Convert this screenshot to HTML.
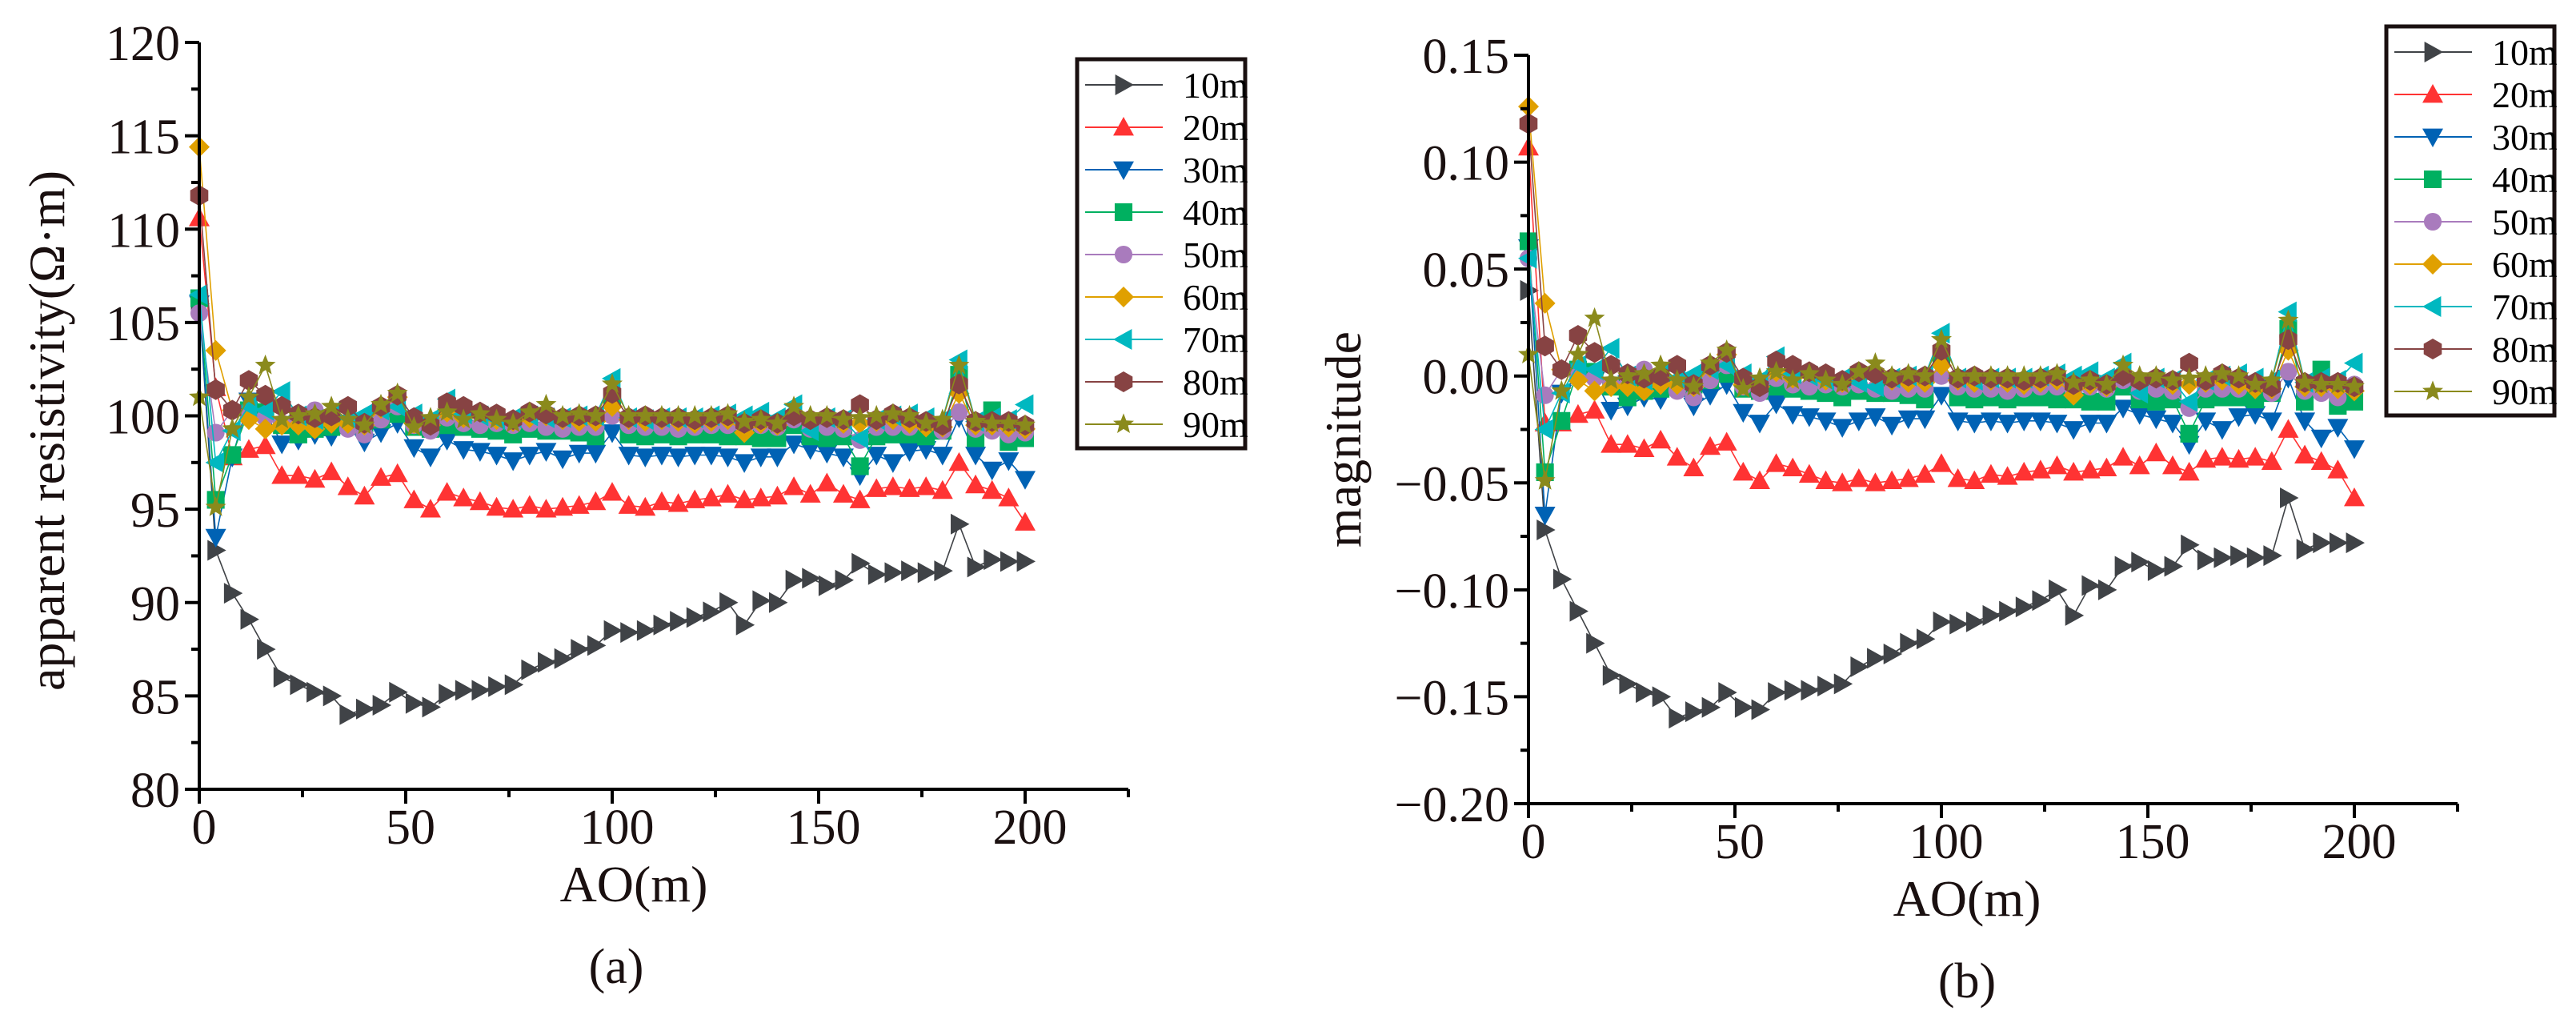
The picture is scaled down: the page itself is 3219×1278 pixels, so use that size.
<!DOCTYPE html>
<html><head><meta charset="utf-8"><style>
html,body{margin:0;padding:0;background:#fff;}
svg{display:block;font-family:"Liberation Serif",serif;}
</style></head><body>
<svg id="chart" width="3219" height="1278" viewBox="0 0 3219 1278" xmlns="http://www.w3.org/2000/svg"></svg>
<script>
const xs = [];
for (let i = 0; i <= 50; i++) xs.push(i * 4);
const seriesNames = ["10m","20m","30m","40m","50m","60m","70m","80m","90m"];
const seriesColors = ["#404347","#ff3333","#0062b4","#00b060","#a97bbd","#e0a000","#00b8c0","#874343","#8a8a1c"];
const seriesShapes = ["tri-right","tri-up","tri-down","square","circle","diamond","tri-left","hexagon","star"];

const left10 = [106,92.8,90.5,89.1,87.5,86.0,85.6,85.2,85.0,84.0,84.3,84.5,85.2,84.6,84.4,85.1,85.3,85.3,85.5,85.6,86.4,86.8,87.0,87.5,87.7,88.5,88.4,88.5,88.8,89.0,89.2,89.5,90.0,88.8,90.1,90.0,91.2,91.3,90.9,91.2,92.1,91.5,91.6,91.7,91.6,91.7,94.2,91.9,92.3,92.2,92.2];
const left20 = [110.6,101.5,97.8,98.2,98.4,96.8,96.8,96.6,97.0,96.2,95.7,96.7,96.9,95.5,95.0,95.9,95.6,95.4,95.1,95.0,95.2,95.0,95.1,95.2,95.4,95.9,95.2,95.1,95.4,95.3,95.5,95.6,95.8,95.5,95.6,95.7,96.2,95.8,96.4,95.8,95.5,96.1,96.2,96.1,96.2,96.0,97.5,96.3,96.0,95.6,94.3];
const left30 = [106,93.5,97.8,100.8,100.2,98.5,98.7,99.0,98.9,99.4,98.6,99.1,99.6,98.3,97.8,98.7,98.2,98.1,97.9,97.6,97.9,98.1,97.7,98.0,98.0,99.1,97.9,97.8,97.9,97.8,97.9,97.9,97.8,97.5,97.8,97.8,98.5,98.2,98.0,97.8,96.8,97.9,97.5,98.1,98.2,97.9,99.9,97.9,97.1,97.6,96.6];
const left40 = [106.3,95.5,97.9,100.3,100.2,99.5,99.0,99.3,99.4,99.5,99.6,99.8,100.1,99.4,99.3,99.5,99.4,99.3,99.2,99.0,99.3,99.2,99.2,99.1,98.9,101.0,99.0,98.9,99.0,98.9,99.0,99.0,98.9,98.9,98.8,98.8,99.5,98.9,98.8,98.9,97.3,98.9,99.0,99.0,98.9,99.2,102.2,98.8,100.3,98.6,98.8];
const left50 = [105.5,99.1,100.3,100.0,99.9,99.6,99.6,100.3,99.8,99.3,99.0,99.8,100.5,99.5,99.2,99.9,99.6,99.5,99.6,99.5,99.6,99.4,99.3,99.4,99.4,100.0,99.5,99.4,99.4,99.3,99.4,99.5,99.5,99.3,99.5,99.4,99.8,99.3,99.4,99.3,98.7,99.4,99.4,99.4,99.5,99.2,100.2,99.3,99.2,99.0,99.1];
const left60 = [114.4,103.5,100.3,99.8,99.3,99.5,99.5,99.3,99.6,99.6,99.5,100.4,101.0,99.6,99.5,100.2,99.9,100.2,99.8,99.7,99.9,100.0,99.8,99.7,99.7,100.5,99.8,99.7,99.8,99.7,99.6,99.7,99.8,99.1,99.6,99.5,100.0,99.8,99.9,99.6,99.6,99.7,99.8,99.6,99.4,99.4,101.2,99.5,99.5,99.4,99.3];
const left70 = [106.5,97.5,99.2,100.5,100.3,101.3,100.0,99.8,100.2,99.9,100.1,100.3,100.5,100.1,99.8,100.9,100.1,100.0,99.8,99.9,100.0,99.9,99.9,100.0,100.0,102.0,99.9,99.8,99.9,99.9,99.9,100.0,100.1,100.0,100.2,99.9,100.6,99.2,99.9,99.8,98.8,99.8,100.0,100.1,99.9,99.8,103.0,99.7,99.9,99.8,100.6];
const left80 = [111.8,101.4,100.3,101.9,101.1,100.5,100.1,99.9,100.0,100.5,99.6,100.5,101.1,99.9,99.5,100.7,100.5,100.2,100.1,99.8,100.2,100.1,99.9,100.0,100.0,101.2,99.9,100.0,99.9,99.9,99.8,99.9,100.0,99.6,99.8,99.6,100.0,99.8,99.9,99.8,100.6,99.8,100.1,99.9,99.7,99.5,101.7,99.7,99.7,99.7,99.5];
const left90 = [101.0,95.1,99.3,101.0,102.7,99.8,100.0,100.1,100.5,99.8,99.5,100.6,101.2,99.4,99.9,100.2,99.8,100.1,99.8,99.6,100.2,100.6,100.0,100.1,100.0,101.7,100.0,100.0,100.0,100.0,100.0,100.0,100.1,99.7,99.8,99.6,100.5,100.0,100.0,99.8,99.9,100.0,100.1,100.0,99.6,99.8,102.7,99.7,99.6,99.6,99.5];

const right10 = [0.04,-0.072,-0.095,-0.110,-0.125,-0.140,-0.144,-0.148,-0.150,-0.160,-0.157,-0.155,-0.148,-0.155,-0.156,-0.148,-0.147,-0.147,-0.145,-0.144,-0.136,-0.132,-0.130,-0.125,-0.123,-0.115,-0.116,-0.115,-0.112,-0.110,-0.108,-0.105,-0.100,-0.112,-0.098,-0.100,-0.089,-0.087,-0.091,-0.089,-0.079,-0.086,-0.085,-0.084,-0.085,-0.084,-0.057,-0.081,-0.078,-0.078,-0.078];
const right20 = [0.107,-0.022,-0.022,-0.018,-0.016,-0.032,-0.032,-0.034,-0.030,-0.038,-0.043,-0.033,-0.031,-0.045,-0.049,-0.041,-0.043,-0.046,-0.049,-0.050,-0.048,-0.050,-0.049,-0.048,-0.046,-0.041,-0.048,-0.049,-0.046,-0.047,-0.045,-0.044,-0.042,-0.045,-0.044,-0.043,-0.038,-0.042,-0.036,-0.042,-0.045,-0.039,-0.038,-0.039,-0.038,-0.040,-0.025,-0.037,-0.040,-0.044,-0.057];
const right30 = [0.06,-0.065,-0.008,0.0,-0.002,-0.016,-0.014,-0.010,-0.011,-0.006,-0.014,-0.009,-0.004,-0.017,-0.022,-0.013,-0.018,-0.019,-0.021,-0.024,-0.021,-0.019,-0.023,-0.020,-0.020,-0.009,-0.021,-0.022,-0.021,-0.022,-0.021,-0.021,-0.022,-0.025,-0.022,-0.022,-0.015,-0.018,-0.020,-0.022,-0.032,-0.021,-0.025,-0.019,-0.018,-0.021,-0.001,-0.021,-0.029,-0.024,-0.034];
const right40 = [0.063,-0.045,-0.021,0.003,0.002,-0.005,-0.010,-0.007,-0.006,-0.005,-0.004,-0.002,0.001,-0.006,-0.007,-0.005,-0.006,-0.007,-0.008,-0.010,-0.007,-0.008,-0.008,-0.009,-0.011,0.010,-0.010,-0.011,-0.010,-0.011,-0.010,-0.010,-0.011,-0.011,-0.012,-0.012,-0.005,-0.011,-0.012,-0.011,-0.027,-0.011,-0.010,-0.010,-0.011,-0.008,0.022,-0.012,0.003,-0.014,-0.012];
const right50 = [0.055,-0.009,0.003,0.0,-0.001,-0.004,-0.004,0.003,-0.002,-0.007,-0.010,-0.002,0.005,-0.005,-0.008,-0.001,-0.004,-0.005,-0.004,-0.005,-0.004,-0.006,-0.007,-0.006,-0.006,0.0,-0.005,-0.006,-0.006,-0.007,-0.006,-0.005,-0.005,-0.007,-0.005,-0.006,-0.002,-0.007,-0.006,-0.007,-0.015,-0.006,-0.006,-0.006,-0.005,-0.008,0.002,-0.007,-0.008,-0.010,-0.004];
const right60 = [0.126,0.034,0.003,-0.002,-0.007,-0.005,-0.005,-0.007,-0.004,-0.004,-0.005,0.004,0.010,-0.004,-0.005,0.002,-0.001,0.002,-0.002,-0.003,-0.001,0.0,-0.002,-0.003,-0.003,0.005,-0.002,-0.003,-0.002,-0.003,-0.004,-0.003,-0.002,-0.009,-0.004,-0.005,0.0,-0.002,-0.001,-0.004,-0.004,-0.003,-0.002,-0.004,-0.006,-0.006,0.012,-0.005,-0.005,-0.006,-0.007];
const right70 = [0.055,-0.025,-0.008,0.005,0.003,0.013,0.0,-0.002,0.002,-0.001,0.001,0.003,0.005,0.001,-0.002,0.009,0.001,0.0,-0.002,-0.001,-0.003,-0.005,-0.001,0.0,0.0,0.020,-0.001,-0.002,-0.001,-0.001,-0.001,0.0,0.001,0.0,0.002,-0.001,0.006,-0.008,-0.001,-0.002,-0.012,-0.002,0.0,0.001,-0.001,-0.002,0.030,-0.003,-0.001,-0.002,0.006];
const right80 = [0.118,0.014,0.003,0.019,0.011,0.005,0.001,-0.001,0.0,0.005,-0.004,0.005,0.011,-0.001,-0.005,0.007,0.005,0.002,0.001,-0.002,0.002,0.001,-0.001,0.0,0.0,0.012,-0.001,0.0,-0.001,-0.001,-0.002,-0.001,0.0,-0.004,-0.002,-0.004,0.0,-0.002,-0.001,-0.002,0.006,-0.002,0.001,-0.001,-0.003,-0.005,0.017,-0.003,-0.003,-0.003,-0.005];
const right90 = [0.010,-0.049,-0.007,0.010,0.027,-0.002,0.0,0.001,0.005,-0.002,-0.005,0.006,0.012,-0.006,-0.001,0.002,-0.002,0.001,-0.002,-0.004,0.002,0.006,0.0,0.001,0.0,0.017,0.0,0.0,0.0,0.0,0.0,0.0,0.001,-0.003,-0.002,-0.004,0.005,0.0,0.0,-0.002,-0.001,0.0,0.001,0.0,-0.004,-0.002,0.026,-0.003,-0.004,-0.004,-0.005];

const xTickValues = [0,50,100,150,200];
const xTickLabels = ["0","50","100","150","200"];
const leftYTickValues = [80,85,90,95,100,105,110,115,120];
const leftYTickLabels = ["80","85","90","95","100","105","110","115","120"];
const rightYTickValues = [-0.20,-0.15,-0.10,-0.05,0.00,0.05,0.10,0.15];
const rightYTickLabels = ["\u22120.20","\u22120.15","\u22120.10","\u22120.05","0.00","0.05","0.10","0.15"];

const NS = "http://www.w3.org/2000/svg";
const svg = document.getElementById("chart");
function mk(tag, attrs, parent) {
  const e = document.createElementNS(NS, tag);
  for (const k in attrs) e.setAttribute(k, attrs[k]);
  (parent || svg).appendChild(e);
  return e;
}

function markerPath(shape, cx, cy, s) {
  const p = [];
  if (shape === "tri-right") return `M${cx-s*0.8},${cy-s} L${cx+s},${cy} L${cx-s*0.8},${cy+s} Z`;
  if (shape === "tri-left") return `M${cx+s*0.8},${cy-s} L${cx-s},${cy} L${cx+s*0.8},${cy+s} Z`;
  if (shape === "tri-up") return `M${cx},${cy-s} L${cx+s},${cy+s*0.8} L${cx-s},${cy+s*0.8} Z`;
  if (shape === "tri-down") return `M${cx},${cy+s} L${cx+s},${cy-s*0.8} L${cx-s},${cy-s*0.8} Z`;
  if (shape === "square") { const h = s*0.85; return `M${cx-h},${cy-h} h${2*h} v${2*h} h${-2*h} Z`; }
  if (shape === "diamond") return `M${cx},${cy-s} L${cx+s},${cy} L${cx},${cy+s} L${cx-s},${cy} Z`;
  if (shape === "hexagon") {
    for (let i = 0; i < 6; i++) { const a = Math.PI/2 + i*Math.PI/3; p.push((cx+s*Math.cos(a)).toFixed(1)+","+(cy-s*Math.sin(a)).toFixed(1)); }
    return "M" + p.join(" L") + " Z";
  }
  if (shape === "star") {
    for (let i = 0; i < 10; i++) { const r = i%2===0 ? s*1.05 : s*0.45; const a = Math.PI/2 + i*Math.PI/5; p.push((cx+r*Math.cos(a)).toFixed(1)+","+(cy-r*Math.sin(a)).toFixed(1)); }
    return "M" + p.join(" L") + " Z";
  }
  return "";
}
function drawMarker(g, shape, cx, cy, s, color) {
  if (shape === "circle") return mk("circle", {cx:cx, cy:cy, r:s*0.85, fill:color}, g);
  return mk("path", {d: markerPath(shape, cx, cy, s), fill: color}, g);
}

function drawPanel(cfg) {
  const g = mk("g", {});
  
  
  const xScale = v => cfg.x0 + (v - 0) * (cfg.x200 - cfg.x0) / 200;
  const yScale = v => cfg.yBot + (v - cfg.yMin) * (cfg.yTop - cfg.yBot) / (cfg.yMax - cfg.yMin);
  // series
  const sg = mk("g", {}, g);
  
  
  cfg.series.forEach((vals, si) => {
    const color = seriesColors[si];
    const ser = mk("g", {}, sg);
    
    
    const pts = vals.map((v, i) => xScale(xs[i]).toFixed(1) + "," + yScale(v).toFixed(1)).join(" ");
    const line = mk("polyline", {points: pts, fill: "none", stroke: color, "stroke-width": 1.6}, ser);
    
    
    vals.forEach((v, i) => {
      const m = drawMarker(ser, seriesShapes[si], xScale(xs[i]), yScale(v), 13, color);
      
      
    });
  });
  // axes
  const axis = mk("g", {stroke: "#000", "stroke-width": 4, fill: "none"}, g);
  
  
  const xEnd = xScale(225);
  mk("path", {d: `M${cfg.x0},${cfg.yTop} V${cfg.yBot} H${xEnd}`}, axis);
  // y ticks
  const yStep = cfg.yTickVals[1] - cfg.yTickVals[0];
  cfg.yTickVals.forEach((v, i) => {
    const y = yScale(v);
    mk("line", {x1: cfg.x0 - 18, x2: cfg.x0, y1: y, y2: y}, axis);
    if (i < cfg.yTickVals.length - 1) {
      const ym = yScale(v + yStep/2);
      mk("line", {x1: cfg.x0 - 10, x2: cfg.x0, y1: ym, y2: ym}, axis);
    }
    const t = mk("text", {x: cfg.x0 - 24, y: y + 22, "text-anchor": "end", "font-size": 62, fill: "#1a1010"}, g);
    t.textContent = cfg.yTickLabels[i];
    
    
  });
  // x ticks
  xTickValues.forEach((v, i) => {
    const x = xScale(v);
    mk("line", {x1: x, x2: x, y1: cfg.yBot, y2: cfg.yBot + 18}, axis);
    const xm = xScale(v + 25);
    mk("line", {x1: xm, x2: xm, y1: cfg.yBot, y2: cfg.yBot + 10}, axis);
    const t = mk("text", {x: x + 6, y: cfg.yBot + 68, "text-anchor": "middle", "font-size": 62, fill: "#1a1010"}, g);
    t.textContent = xTickLabels[i];
    
    
  });
  const xt = mk("text", {x: cfg.xTitleX, y: cfg.yBot + 140, "text-anchor": "middle", "font-size": 64, fill: "#1a1010"}, g);
  xt.textContent = "AO(m)";
  
  
  const yt = mk("text", {x: 0, y: 0, "text-anchor": "middle", "font-size": 64, fill: "#1a1010", transform: `translate(${cfg.yTitleX},${cfg.yTitleY}) rotate(-90)`}, g);
  yt.textContent = cfg.yTitle;
  
  
  const cap = mk("text", {x: cfg.capX, y: cfg.yBot + 242, "text-anchor": "middle", "font-size": 62, fill: "#1a1010"}, g);
  cap.textContent = cfg.caption;
  
  
  // legend
  const lg = mk("g", {}, g);
  
  
  mk("rect", {x: cfg.lgX, y: cfg.lgY, width: 210, height: 486, fill: "#fff", stroke: "#1a1010", "stroke-width": 5}, lg);
  seriesNames.forEach((n, i) => {
    const ey = cfg.lgY + 32 + i * 53;
    const e = mk("g", {}, lg);
    
    
    mk("line", {x1: cfg.lgX + 10, x2: cfg.lgX + 107, y1: ey, y2: ey, stroke: seriesColors[i], "stroke-width": 2}, e);
    drawMarker(e, seriesShapes[i], cfg.lgX + 58, ey, 13, seriesColors[i]);
    const t = mk("text", {x: cfg.lgX + 132, y: ey + 16, "font-size": 46, fill: "#000"}, e);
    t.textContent = n;
  });
}

drawPanel({
  name: "panel-a-resistivity", x0: 249, x200: 1281, yTop: 53, yBot: 986, yMin: 80, yMax: 120,
  yTickVals: leftYTickValues, yTickLabels: leftYTickLabels,
  series: [left10,left20,left30,left40,left50,left60,left70,left80,left90],
  xTitleX: 792, yTitleX: 80, yTitleY: 538, yTitle: "apparent resistivity(\u03a9\u00b7m)",
  caption: "(a)", capX: 770, lgX: 1346, lgY: 74
});
drawPanel({
  name: "panel-b-magnitude", x0: 1910, x200: 2942, yTop: 69, yBot: 1004, yMin: -0.20, yMax: 0.15,
  yTickVals: rightYTickValues, yTickLabels: rightYTickLabels,
  series: [right10,right20,right30,right40,right50,right60,right70,right80,right90],
  xTitleX: 2458, yTitleX: 1700, yTitleY: 549, yTitle: "magnitude",
  caption: "(b)", capX: 2458, lgX: 2982, lgY: 33
});
</script>
</body></html>
